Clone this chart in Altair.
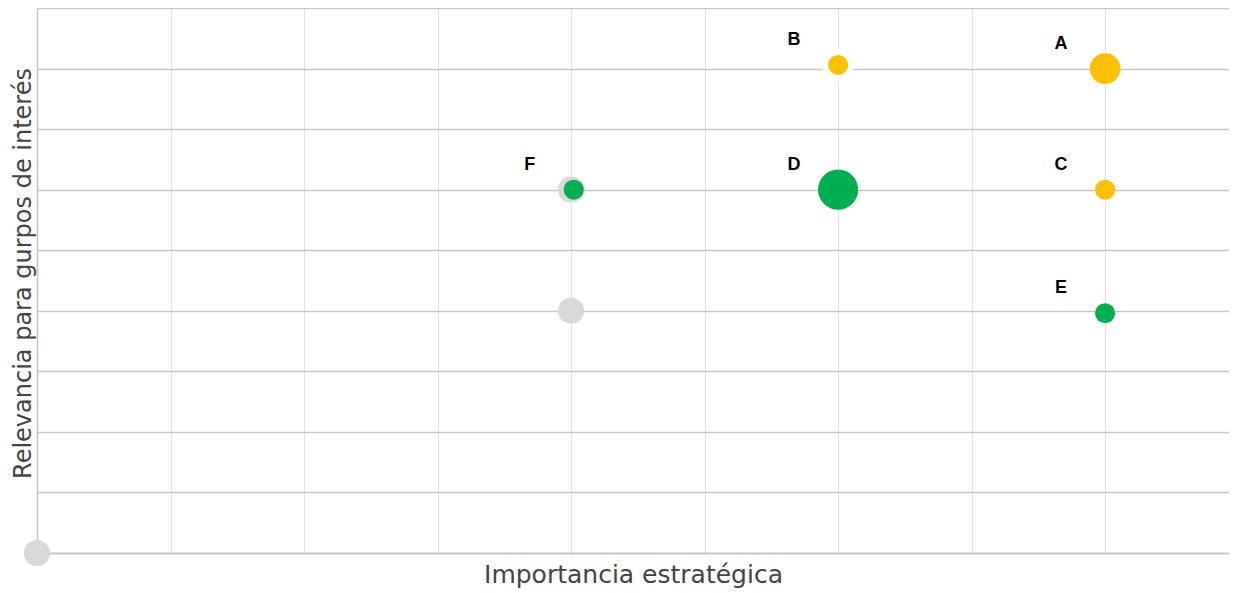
import altair as alt
import pandas as pd

# Data
labels = ["A", "B", "C", "D", "E", "F"]
importancia = [4.0, 3.0, 4.0, 3.0, 4.0, 2.01]
relevancia = [4.0, 4.03, 3.0, 3.0, 1.98, 3.0]
peso = [2.34, 1.0, 1.0, 4.0, 1.0, 1.0]
grupo = ["amarillo", "amarillo", "amarillo", "verde", "verde", "verde"]

gris_x = [0.0, 2.0, 2.0]
gris_y = [0.0, 2.0, 3.0]
gris_peso = [1.7, 1.7, 1.7]

x_ticks = [0, 0.5, 1, 1.5, 2, 2.5, 3, 3.5, 4]
y_ticks = [0, 0.5, 1, 1.5, 2, 2.5, 3, 3.5, 4, 4.5]
x_max = 4.464  # the right edge of the visible plot area

df = pd.DataFrame({"label": labels, "x": importancia, "y": relevancia,
                   "peso": peso, "grupo": grupo})
dg = pd.DataFrame({"x": gris_x, "y": gris_y, "peso": gris_peso})

TFONT = "DejaVu Sans"
LFONT = "Liberation Sans"

x_enc = alt.X("x:Q", scale=alt.Scale(domain=[0, x_max], nice=False, zero=False),
              axis=alt.Axis(values=x_ticks, labels=False, ticks=False,
                            title="Importancia estratégica", titleFont=TFONT,
                            titleFontSize=25, titleFontWeight="normal",
                            titleColor="#444444", titlePadding=9,
                            gridColor="#dde1e6", gridWidth=1,
                            domainColor="#c4c4c4", domainWidth=1.5))
y_enc = alt.Y("y:Q", scale=alt.Scale(domain=[0, 4.5], nice=False, zero=False),
              axis=alt.Axis(values=y_ticks, labels=False, ticks=False,
                            title="Relevancia para gurpos de interés", titleFont=TFONT,
                            titleFontSize=24, titleFontWeight="normal",
                            titleColor="#444444", titlePadding=2, titleY=265,
                            gridColor="#c8c8c8", gridWidth=1.5,
                            domainColor="#c4c4c4", domainWidth=1.5))
size_scale = alt.Scale(domain=[0, 4], range=[0, 1612])

gris = alt.Chart(dg).mark_circle(color="#d9d9d9", opacity=1).encode(
    x=x_enc, y=y_enc, size=alt.Size("peso:Q", scale=size_scale, legend=None))

halo = alt.Chart(df).transform_filter(alt.datum.label == "B").mark_circle(
    color="white", opacity=1, size=1000).encode(x=x_enc, y=y_enc)

puntos = alt.Chart(df).mark_circle(opacity=1).encode(
    x=x_enc, y=y_enc,
    size=alt.Size("peso:Q", scale=size_scale, legend=None),
    color=alt.Color("grupo:N", scale=alt.Scale(domain=["amarillo", "verde"],
                                               range=["#FFC000", "#00B050"]),
                    legend=None))

texto = alt.Chart(df).mark_text(dx=-44, dy=-25, fontSize=18, fontWeight="bold",
                                font=LFONT, color="black").encode(
    x=x_enc, y=y_enc, text="label:N")

chart = alt.layer(gris, halo, puntos, texto).properties(
    width=1192, height=545,
    autosize=alt.AutoSizeParams(type="none"),
    padding={"left": 29, "top": 0, "right": 0, "bottom": 39},
).configure_view(stroke=None)

chart.save("out.html", embed_options={"renderer": "svg", "actions": False})
